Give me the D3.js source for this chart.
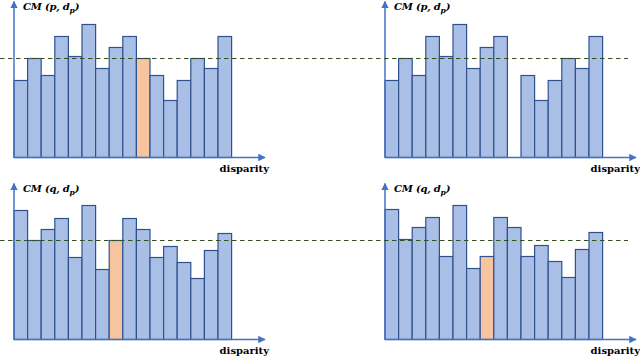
<!DOCTYPE html>
<meta charset="utf-8">
<style>

body { margin: 0; background: #fff; }

.bars rect {
  stroke: #2f528f;
  stroke-width: 1.2px;
}

.axis line {
  stroke: #4472c4;
  stroke-width: 1.5px;
}

.threshold {
  stroke: #34501f;
  stroke-width: 1.2px;
  stroke-dasharray: 4.5,3.5;
}

.cm-label {
  font-family: "DejaVu Serif", serif;
  font-style: italic;
  font-weight: bold;
  font-size: 10px;
  letter-spacing: -0.2px;
  fill: #000;
}

.x-label {
  font-family: "DejaVu Serif", serif;
  font-weight: bold;
  font-size: 10px;
  fill: #000;
}

</style>
<svg width="640" height="356"></svg>
<script src="https://d3js.org/d3.v7.min.js"></script>
<script>

// Matching cost for each disparity (arbitrary units)
var disparities = d3.range(16);
var costP = [77, 99, 82, 121, 101, 133, 89, 110, 121, 99, 82, 57, 77, 99, 89, 121];
var costPRemoved = [77, 99, 82, 121, 101, 133, 89, 110, 121, null, 82, 57, 77, 99, 89, 121];
var costQ = [129, 99, 110, 121, 82, 134, 70, 99, 121, 110, 82, 93, 77, 61, 89, 106];
var costQLow = [130, 100, 112, 122, 83, 134, 71, 83, 122, 112, 83, 94, 78, 62, 90, 107];
var highlightP = 9, highlightQ = 7;
var threshold = 99;

var svg = d3.select("svg");

// Shared arrow marker
svg.append("defs").append("marker")
    .attr("id", "arrow")
    .attr("viewBox", "0 0 10 10")
    .attr("refX", 9)
    .attr("refY", 5)
    .attr("markerWidth", 5)
    .attr("markerHeight", 5)
    .attr("markerUnits", "strokeWidth")
    .attr("orient", "auto")
  .append("path")
    .attr("d", "M0,0L10,5L0,10z")
    .attr("fill", "#4472c4");

var panels = [
  {x0: 14, base: 157.5, data: costP, hi: highlightP, who: "p"},
  {x0: 385, base: 157.5, data: costPRemoved, hi: -1, who: "p"},
  {x0: 14, base: 339.5, data: costQ, hi: highlightQ, who: "q"},
  {x0: 385, base: 339.5, data: costQLow, hi: highlightQ, who: "q"}
];

panels.forEach(function(p) {
  var x = d3.scaleBand()
      .domain(disparities)
      .range([p.x0, p.x0 + 217.6])
      .padding(0);

  var y = d3.scaleLinear()
      .domain([0, 140])
      .range([p.base, p.base - 140]);

  var g = svg.append("g");

  // Bars
  g.append("g")
      .attr("class", "bars")
    .selectAll("rect")
    .data(disparities.filter(function(i) { return p.data[i] != null; }))
    .enter().append("rect")
      .attr("x", function(i) { return x(i); })
      .attr("y", function(i) { return y(p.data[i]); })
      .attr("width", x.bandwidth())
      .attr("height", function(i) { return y(0) - y(p.data[i]); })
      .attr("fill", function(i) { return i === p.hi ? "#f7c4a0" : "#aabfe5"; });

  // Axes with arrows
  var axis = g.append("g").attr("class", "axis");
  axis.append("line")
      .attr("x1", p.x0).attr("y1", y(0))
      .attr("x2", p.x0).attr("y2", y(0) - 156)
      .attr("marker-end", "url(#arrow)");
  axis.append("line")
      .attr("x1", p.x0).attr("y1", y(0))
      .attr("x2", p.x0 + 251).attr("y2", y(0))
      .attr("marker-end", "url(#arrow)");

  // Labels
  var lab = g.append("text")
      .attr("class", "cm-label")
      .attr("x", p.x0 + 9)
      .attr("y", y(0) - 147.5);
  lab.append("tspan").text("CM (" + p.who + ", d");
  lab.append("tspan").attr("dy", 3).attr("font-size", "7.5px").text("p");
  lab.append("tspan").attr("dy", -3).text(")");

  g.append("text")
      .attr("class", "x-label")
      .attr("x", p.x0 + 255)
      .attr("y", y(0) + 14)
      .attr("text-anchor", "end")
      .text("disparity");

  p.y = y;
});

// Threshold lines across both panels in a row
[panels[0], panels[2]].forEach(function(p) {
  svg.append("line")
      .attr("class", "threshold")
      .attr("x1", 0).attr("x2", 628)
      .attr("y1", p.y(threshold)).attr("y2", p.y(threshold));
});

</script>
